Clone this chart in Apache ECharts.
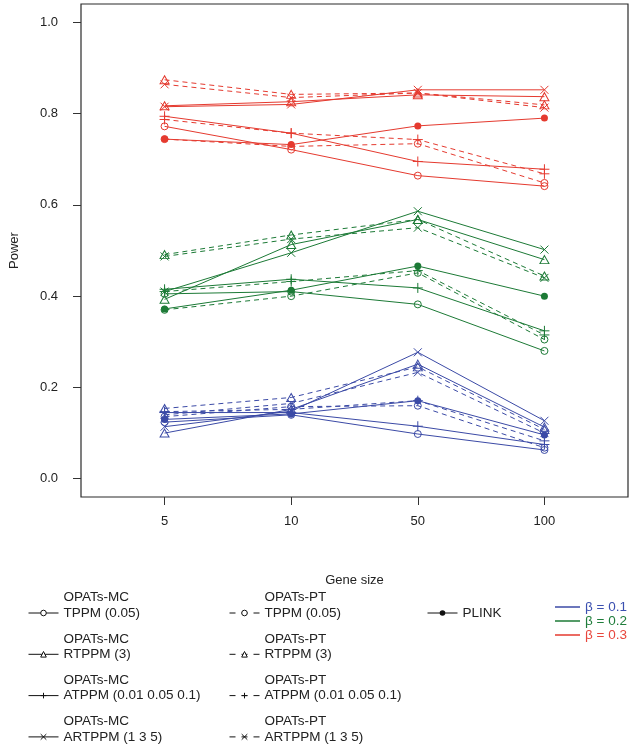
<!DOCTYPE html>
<html><head><meta charset="utf-8">
<script src="https://cdn.jsdelivr.net/npm/echarts@6/dist/echarts.min.js"></script>
<style>html,body{margin:0;padding:0;background:#fff}#c{width:633px;height:746px}</style>
</head><body><div id="c"></div>
<script>
// ---------- data ----------
const geneSizes = ['5', '10', '50', '100'];
const yTicks = [0, 0.2, 0.4, 0.6, 0.8, 1.0];
const betaLabels = ['β = 0.1', 'β = 0.2', 'β = 0.3'];
const methodKeys = ['MC_TPPM', 'MC_RTPPM', 'MC_ATPPM', 'MC_ARTPPM', 'PT_TPPM', 'PT_RTPPM', 'PT_ATPPM', 'PT_ARTPPM', 'PLINK'];
const methodLine1 = ['OPATs-MC', 'OPATs-MC', 'OPATs-MC', 'OPATs-MC', 'OPATs-PT', 'OPATs-PT', 'OPATs-PT', 'OPATs-PT', ''];
const methodLine2 = ['TPPM (0.05)', 'RTPPM (3)', 'ATPPM (0.01 0.05 0.1)', 'ARTPPM (1 3 5)', 'TPPM (0.05)', 'RTPPM (3)', 'ATPPM (0.01 0.05 0.1)', 'ARTPPM (1 3 5)', 'PLINK'];

// beta = 0.1
const b1_MC_TPPM   = [0.124, 0.140, 0.098, 0.063];
const b1_MC_RTPPM  = [0.100, 0.152, 0.251, 0.113];
const b1_MC_ATPPM  = [0.145, 0.145, 0.115, 0.075];
const b1_MC_ARTPPM = [0.114, 0.148, 0.277, 0.127];
const b1_PT_TPPM   = [0.136, 0.158, 0.160, 0.068];
const b1_PT_RTPPM  = [0.154, 0.178, 0.245, 0.108];
const b1_PT_ATPPM  = [0.147, 0.152, 0.171, 0.083];
const b1_PT_ARTPPM = [0.140, 0.165, 0.233, 0.100];
const b1_PLINK     = [0.130, 0.142, 0.171, 0.096];
// beta = 0.2
const b2_MC_TPPM   = [0.405, 0.410, 0.382, 0.280];
const b2_MC_RTPPM  = [0.393, 0.513, 0.568, 0.480];
const b2_MC_ATPPM  = [0.415, 0.437, 0.418, 0.324];
const b2_MC_ARTPPM = [0.410, 0.495, 0.586, 0.502];
const b2_PT_TPPM   = [0.370, 0.400, 0.451, 0.305];
const b2_PT_RTPPM  = [0.491, 0.534, 0.568, 0.444];
const b2_PT_ATPPM  = [0.410, 0.432, 0.456, 0.315];
const b2_PT_ARTPPM = [0.487, 0.525, 0.550, 0.440];
const b2_PLINK     = [0.372, 0.413, 0.466, 0.400];
// beta = 0.3
const b3_MC_TPPM   = [0.772, 0.721, 0.664, 0.641];
const b3_MC_RTPPM  = [0.817, 0.826, 0.841, 0.837];
const b3_MC_ATPPM  = [0.794, 0.757, 0.695, 0.678];
const b3_MC_ARTPPM = [0.815, 0.820, 0.852, 0.852];
const b3_PT_TPPM   = [0.744, 0.728, 0.734, 0.648];
const b3_PT_RTPPM  = [0.874, 0.842, 0.845, 0.819];
const b3_PT_ATPPM  = [0.787, 0.757, 0.743, 0.668];
const b3_PT_ARTPPM = [0.864, 0.835, 0.845, 0.813];
const b3_PLINK     = [0.744, 0.732, 0.773, 0.790];

const betaSets = [
  [b1_MC_TPPM, b1_MC_RTPPM, b1_MC_ATPPM, b1_MC_ARTPPM, b1_PT_TPPM, b1_PT_RTPPM, b1_PT_ATPPM, b1_PT_ARTPPM, b1_PLINK],
  [b2_MC_TPPM, b2_MC_RTPPM, b2_MC_ATPPM, b2_MC_ARTPPM, b2_PT_TPPM, b2_PT_RTPPM, b2_PT_ATPPM, b2_PT_ARTPPM, b2_PLINK],
  [b3_MC_TPPM, b3_MC_RTPPM, b3_MC_ATPPM, b3_MC_ARTPPM, b3_PT_TPPM, b3_PT_RTPPM, b3_PT_ATPPM, b3_PT_ARTPPM, b3_PLINK]
];

// ---------- styles ----------
const FONT = '"Liberation Sans", Arial, sans-serif';
const betaColors = ['#3b4aa6', '#1c7a36', '#e53a2f'];
const betaTextColors = ['#3b50b0', '#1f7d3b', '#e8463c'];
const SYM = {
  circle: {symbol: 'circle', size: 7, open: true},
  tri: {symbol: 'path://M5,0L10,8.66L0,8.66Z', size: [9, 8], open: true},
  plus: {symbol: 'path://M5,0L5,10M0,5L10,5', size: 10, open: true},
  cross: {symbol: 'path://M0,0L10,10M10,0L0,10', size: 8, open: true},
  dot: {symbol: 'circle', size: 7, open: false}
};
const methodSym = [SYM.circle, SYM.tri, SYM.plus, SYM.cross, SYM.circle, SYM.tri, SYM.plus, SYM.cross, SYM.dot];
const methodDashed = [false, false, false, false, true, true, true, true, false];

const series = [];
betaSets.forEach((set, bi) => {
  const col = betaColors[bi];
  set.forEach((vals, mi) => {
    const s = methodSym[mi];
    series.push({
      type: 'line',
      name: 'b' + (bi + 1) + '_' + methodKeys[mi],
      data: vals.map((v, i) => [i + 1, v]),
      symbol: s.symbol,
      symbolSize: s.size,
      showAllSymbol: true,
      lineStyle: {color: col, width: 1, type: methodDashed[mi] ? [5, 4] : 'solid'},
      itemStyle: s.open ? {color: 'rgba(0,0,0,0)', borderColor: col, borderWidth: 1} : {color: col, borderWidth: 0},
      emphasis: {disabled: true},
      z: 2
    });
  });
});
// legend-only dummy series (black)
methodKeys.forEach((k, mi) => {
  const s = methodSym[mi];
  series.push({
    type: 'line', name: 'L_' + k, data: [],
    symbol: s.symbol, symbolSize: s.size,
    lineStyle: {color: '#111', width: 1, type: methodDashed[mi] ? [6, 6] : 'solid'},
    itemStyle: s.open ? {color: '#fff', borderColor: '#111', borderWidth: 1} : {color: '#111', borderWidth: 0},
    color: '#111'
  });
});
betaLabels.forEach((b, bi) => {
  series.push({type: 'line', name: b, data: [], color: betaColors[bi], itemStyle: {color: betaColors[bi]}, lineStyle: {color: betaColors[bi]}});
});

// ---------- legends ----------
const LFS = 13.5, LLH = 15.5;
const legendTextStyle = {fontSize: LFS, lineHeight: LLH, color: '#222', fontFamily: FONT};
const rowY = [613, 654.3, 695.6, 736.9];
const colLeft = [28, 229];
const legends = [];
for (let mi = 0; mi < 8; mi++) {
  const col = Math.floor(mi / 4), row = mi % 4;
  legends.push({
    data: ['L_' + methodKeys[mi]],
    left: colLeft[col], top: rowY[row] - 1.5 * LLH,
    orient: 'vertical', padding: 0, itemWidth: 30, itemHeight: 7,
    selectedMode: false, textStyle: legendTextStyle,
    lineStyle: {width: 1}, itemStyle: {borderWidth: 1},
    formatter: () => methodLine1[mi] + '\n' + methodLine2[mi] + '\n '
  });
}
legends.push({
  data: ['L_PLINK'], left: 427, top: rowY[0] - LLH / 2, padding: 0,
  itemWidth: 30, itemHeight: 7, selectedMode: false, textStyle: legendTextStyle,
  lineStyle: {width: 1},
  formatter: () => methodLine2[8]
});
legends.push({
  data: betaLabels.map((b, bi) => ({name: b, textStyle: {color: betaTextColors[bi]}})),
  left: 555, top: 607 - 7, padding: 0, orient: 'vertical', itemGap: 0,
  icon: 'rect', itemWidth: 25, itemHeight: 1.5, selectedMode: false,
  textStyle: {fontSize: LFS, lineHeight: 13.5, fontFamily: FONT}
});

const option = {
  animation: false,
  backgroundColor: '#fff',
  grid: {left: 78, right: 5, top: 4, bottom: 249, show: true, borderColor: '#2a2a2a', borderWidth: 1.2, backgroundColor: 'transparent'},
  xAxis: {
    type: 'value', min: 0.34, max: 4.66,
    name: 'Gene size', nameLocation: 'middle', nameGap: 77,
    nameTextStyle: {fontSize: 13, color: '#222', fontFamily: FONT},
    axisLine: {show: false, onZero: false},
    axisTick: {show: true, inside: false, length: 8, customValues: [1, 2, 3, 4], lineStyle: {color: '#333', width: 1}},
    axisLabel: {customValues: [1, 2, 3, 4], formatter: v => geneSizes[Math.round(v) - 1], margin: 18, fontSize: 13, color: '#222', fontFamily: FONT},
    splitLine: {show: false}
  },
  yAxis: {
    type: 'value', min: -0.04, max: 1.04,
    name: 'Power', nameLocation: 'middle', nameGap: 60, nameRotate: 90,
    nameTextStyle: {fontSize: 13, color: '#222', fontFamily: FONT},
    axisLine: {show: false, onZero: false},
    axisTick: {show: true, inside: false, length: 8, customValues: yTicks, lineStyle: {color: '#333', width: 1}},
    axisLabel: {customValues: yTicks, formatter: v => v.toFixed(1), margin: 23, fontSize: 13, color: '#222', fontFamily: FONT},
    splitLine: {show: false}
  },
  legend: legends,
  series: series
};
const chart = echarts.init(document.getElementById('c'), null, {renderer: 'canvas'});
chart.setOption(option);
</script></body></html>
